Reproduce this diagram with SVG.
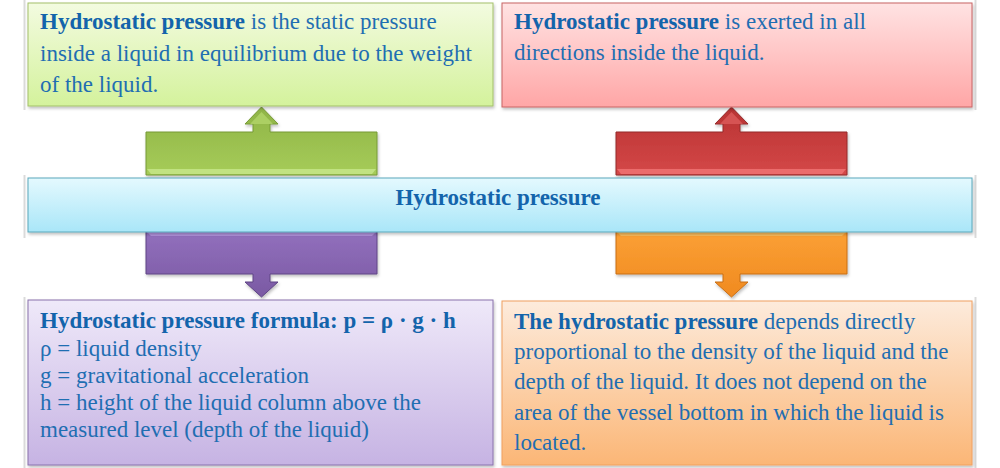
<svg xmlns="http://www.w3.org/2000/svg" width="1000" height="468" viewBox="0 0 1000 468">
<defs>
<linearGradient id="gGreen" x1="0" y1="0" x2="0" y2="1"><stop offset="0" stop-color="#f3fbe0"/><stop offset="1" stop-color="#d4f29c"/></linearGradient>
<linearGradient id="gRed" x1="0" y1="0" x2="0" y2="1"><stop offset="0" stop-color="#ffe3e3"/><stop offset="1" stop-color="#ffa6a6"/></linearGradient>
<linearGradient id="gCyan" x1="0" y1="0" x2="0" y2="1"><stop offset="0" stop-color="#e4f9fe"/><stop offset="1" stop-color="#a9e6f8"/></linearGradient>
<linearGradient id="gPurple" x1="0" y1="0" x2="0" y2="1"><stop offset="0" stop-color="#efe9f9"/><stop offset="1" stop-color="#c6b3e3"/></linearGradient>
<linearGradient id="gOrange" x1="0" y1="0" x2="0" y2="1"><stop offset="0" stop-color="#fdebdc"/><stop offset="1" stop-color="#fbb676"/></linearGradient>
<linearGradient id="aGreen" x1="0" y1="0" x2="0" y2="1"><stop offset="0" stop-color="#8fb447"/><stop offset="1" stop-color="#a6cc58"/></linearGradient>
<linearGradient id="aRed" x1="0" y1="0" x2="0" y2="1"><stop offset="0" stop-color="#b83232"/><stop offset="1" stop-color="#d44848"/></linearGradient>
<linearGradient id="aPurple" x1="0" y1="0" x2="0" y2="1"><stop offset="0" stop-color="#9270bd"/><stop offset="1" stop-color="#7a59a3"/></linearGradient>
<linearGradient id="aOrange" x1="0" y1="0" x2="0" y2="1"><stop offset="0" stop-color="#fba035"/><stop offset="1" stop-color="#f08a20"/></linearGradient>
<filter id="sh" x="-5%" y="-10%" width="110%" height="130%"><feDropShadow dx="1" dy="2" stdDeviation="1.5" flood-color="#000" flood-opacity="0.25"/></filter>
</defs>
<style>
.t{font-family:'Liberation Serif',serif;font-size:23px;fill:#1f6eb2}
.b{font-weight:bold;fill:#1364ab}
.edge{stroke:#dadada;stroke-width:2}
</style>
<rect width="1000" height="468" fill="#ffffff"/>
<g id="frame-lines">
<line class="edge" x1="24.5" y1="0" x2="24.5" y2="110"/>
<line class="edge" x1="24.5" y1="175" x2="24.5" y2="238"/>
<line class="edge" x1="24.5" y1="297" x2="24.5" y2="468"/>
<line class="edge" x1="975.5" y1="0" x2="975.5" y2="110"/>
<line class="edge" x1="975.5" y1="175" x2="975.5" y2="238"/>
<line class="edge" x1="975.5" y1="297" x2="975.5" y2="468"/>
</g>
<g id="connectors">
<g id="arrow-green" filter="url(#sh)">
<path d="M146,132 H253 V124 H245 L261.5,107 L278,124 H270 V132 H377 V175 H146 Z" fill="url(#aGreen)" stroke="#779a36" stroke-width="1"/>
<path d="M147,169 H376 L372,174 H151 Z" fill="#c4e486" opacity="0.9"/>
<path d="M250,124 L261.5,112 L273,124 Z" fill="#b2d46a" opacity="0.8"/>
</g>
<g id="arrow-red" filter="url(#sh)">
<path d="M616,132 H723 V124 H715 L731.5,107 L748,124 H740 V132 H847 V175 H616 Z" fill="url(#aRed)" stroke="#942a2a" stroke-width="1"/>
<path d="M617,169 H846 L842,174 H621 Z" fill="#ee7070" opacity="0.9"/>
<path d="M720,124 L731.5,112 L743,124 Z" fill="#dc5a5a" opacity="0.8"/>
</g>
<g id="arrow-purple" filter="url(#sh)">
<path d="M146,231 H377 V274 H270 V282 H278 L261.5,297 L245,282 H253 V274 H146 Z" fill="url(#aPurple)" stroke="#5e4484" stroke-width="1"/>
<path d="M147,232 H376 L372,236 H151 Z" fill="#b596e0" opacity="0.9"/>
</g>
<g id="arrow-orange" filter="url(#sh)">
<path d="M616,231 H847 V274 H740 V282 H748 L731.5,297 L715,282 H723 V274 H616 Z" fill="url(#aOrange)" stroke="#c86e14" stroke-width="1"/>
<path d="M617,232 H846 L842,236 H621 Z" fill="#fcc060" opacity="0.9"/>
</g>
</g>
<g id="node-definition" class="t">
<rect x="28" y="3" width="465" height="103" fill="url(#gGreen)" stroke="#a3c06a" stroke-width="1" filter="url(#sh)"/>
<text x="40" y="29"><tspan class="b">Hydrostatic pressure</tspan> is the static pressure</text>
<text x="40" y="61">inside a liquid in equilibrium due to the weight</text>
<text x="40" y="92">of the liquid.</text>
</g>
<g id="node-directions" class="t">
<rect x="502" y="3" width="470" height="104" fill="url(#gRed)" stroke="#c86464" stroke-width="1" filter="url(#sh)"/>
<text x="514" y="29"><tspan class="b">Hydrostatic pressure</tspan> is exerted in all</text>
<text x="514" y="60">directions inside the liquid.</text>
</g>
<g id="node-center" class="t">
<rect x="28" y="178" width="944" height="54" fill="url(#gCyan)" stroke="#5aa8bc" stroke-width="1" filter="url(#sh)"/>
<text x="498" y="205" text-anchor="middle" class="b">Hydrostatic pressure</text>
</g>
<g id="node-formula" class="t">
<rect x="28" y="300" width="465" height="165" fill="url(#gPurple)" stroke="#8a72ac" stroke-width="1" filter="url(#sh)"/>
<text x="40" y="328" class="b">Hydrostatic pressure formula: p = ρ · g · h</text>
<text x="40" y="356">ρ = liquid density</text>
<text x="40" y="383">g = gravitational acceleration</text>
<text x="40" y="410">h = height of the liquid column above the</text>
<text x="40" y="437">measured level (depth of the liquid)</text>
</g>
<g id="node-dependence" class="t">
<rect x="502" y="301" width="470" height="164" fill="url(#gOrange)" stroke="#f0a060" stroke-width="1" filter="url(#sh)"/>
<text x="514" y="329"><tspan class="b">The hydrostatic pressure</tspan> depends directly</text>
<text x="514" y="359">proportional to the density of the liquid and the</text>
<text x="514" y="389">depth of the liquid. It does not depend on the</text>
<text x="514" y="420">area of the vessel bottom in which the liquid is</text>
<text x="514" y="450">located.</text>
</g>
</svg>
